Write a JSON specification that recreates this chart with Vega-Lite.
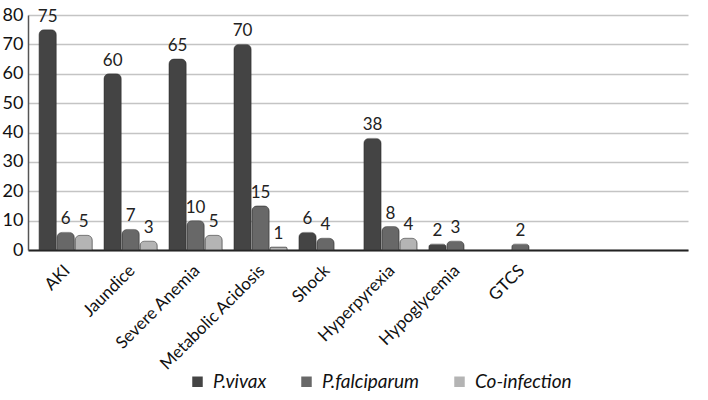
{
  "$schema": "https://vega.github.io/schema/vega-lite/v6.json",
  "width": 660,
  "height": 235,
  "padding": {"left": 2, "top": 6, "right": 8, "bottom": 0},
  "background": "white",
  "config": {
    "font": "Lato",
    "view": {"stroke": null}
  },
  "data": {
    "values": [
      {"symptom": "AKI", "type": "P.vivax", "value": 75},
      {"symptom": "AKI", "type": "P.falciparum", "value": 6},
      {"symptom": "AKI", "type": "Co-infection", "value": 5},
      {"symptom": "Jaundice", "type": "P.vivax", "value": 60},
      {"symptom": "Jaundice", "type": "P.falciparum", "value": 7},
      {"symptom": "Jaundice", "type": "Co-infection", "value": 3},
      {"symptom": "Severe Anemia", "type": "P.vivax", "value": 65},
      {"symptom": "Severe Anemia", "type": "P.falciparum", "value": 10},
      {"symptom": "Severe Anemia", "type": "Co-infection", "value": 5},
      {"symptom": "Metabolic Acidosis", "type": "P.vivax", "value": 70},
      {"symptom": "Metabolic Acidosis", "type": "P.falciparum", "value": 15},
      {"symptom": "Metabolic Acidosis", "type": "Co-infection", "value": 1},
      {"symptom": "Shock", "type": "P.vivax", "value": 6},
      {"symptom": "Shock", "type": "P.falciparum", "value": 4},
      {"symptom": "Hyperpyrexia", "type": "P.vivax", "value": 38},
      {"symptom": "Hyperpyrexia", "type": "P.falciparum", "value": 8},
      {"symptom": "Hyperpyrexia", "type": "Co-infection", "value": 4},
      {"symptom": "Hypoglycemia", "type": "P.vivax", "value": 2},
      {"symptom": "Hypoglycemia", "type": "P.falciparum", "value": 3},
      {"symptom": "GTCS", "type": "P.falciparum", "value": 2}
    ]
  },
  "encoding": {
    "x": {
      "field": "symptom",
      "type": "nominal",
      "scale": {
        "domain": ["AKI", "Jaundice", "Severe Anemia", "Metabolic Acidosis", "Shock", "Hyperpyrexia", "Hypoglycemia", "GTCS", "_a", "_b"],
        "paddingInner": 0.18,
        "paddingOuter": 0.17
      },
      "axis": {
        "title": null,
        "labelAngle": -45,
        "labelFontSize": 17,
        "labelColor": "#111",
        "labelExpr": "indexof(datum.value, '_') == 0 ? '' : datum.value",
        "ticks": false,
        "domainColor": "#222",
        "domainWidth": 2,
        "labelPadding": 12,
        "labelOffset": -4
      }
    },
    "xOffset": {
      "field": "type",
      "type": "nominal",
      "scale": {"domain": ["P.vivax", "P.falciparum", "Co-infection"], "paddingInner": 0.04}
    },
    "y": {
      "field": "value",
      "type": "quantitative",
      "scale": {"domain": [0, 80]},
      "axis": {
        "title": null,
        "values": [0, 10, 20, 30, 40, 50, 60, 70, 80],
        "labelFontSize": 18,
        "labelColor": "#111",
        "gridColor": "#c4c4c4",
        "gridWidth": 1.5,
        "ticks": false,
        "domainColor": "#555",
        "domainWidth": 1.5,
        "labelPadding": 5
      }
    }
  },
  "layer": [
    {
      "mark": {"type": "bar", "cornerRadiusTopLeft": 5, "cornerRadiusTopRight": 5, "stroke": "#333", "strokeWidth": 0.5},
      "encoding": {
        "color": {
          "field": "type",
          "type": "nominal",
          "scale": {"domain": ["P.vivax", "P.falciparum", "Co-infection"], "range": ["#444444", "#686868", "#b4b4b4"]},
          "legend": {
            "title": null,
            "orient": "none",
            "legendX": 160,
            "legendY": 357,
            "direction": "horizontal",
            "symbolType": "square",
            "symbolSize": 110,
            "symbolStrokeWidth": 0,
            "labelFontSize": 19,
            "labelFontStyle": "italic",
            "labelColor": "#111",
            "labelOffset": 6,
            "columnPadding": 30
          }
        }
      }
    },
    {
      "mark": {"type": "text", "dy": -13, "fontSize": 17, "color": "#222"},
      "encoding": {"text": {"field": "value", "type": "quantitative"}}
    }
  ]
}
